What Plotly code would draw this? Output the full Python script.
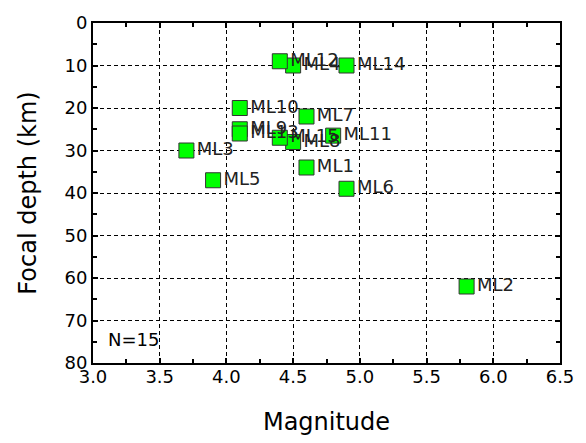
import plotly.graph_objects as go

labels = ["ML1", "ML2", "ML3", "ML4", "ML5", "ML6", "ML7", "ML8",
          "ML9", "ML10", "ML11", "ML12", "ML13", "ML14", "ML15"]
magnitude = [4.6, 5.8, 3.7, 4.5, 3.9, 4.9, 4.6, 4.5,
             4.1, 4.1, 4.8, 4.4, 4.1, 4.9, 4.4]
depth = [34, 62, 30, 10, 37, 39, 22, 28,
         25, 20, 26.5, 9, 26, 10, 27]

FONT = "DejaVu Sans"

fig = go.Figure()
fig.add_trace(go.Scatter(
    x=magnitude, y=depth, text=labels,
    mode="markers+text",
    textposition="middle right",
    textfont=dict(family=FONT, size=18, color="#222"),
    marker=dict(symbol="square", size=15, color="#00FF00",
                line=dict(color="#333", width=1)),
    showlegend=False, cliponaxis=False,
))

axis_common = dict(
    showline=True, linecolor="black", linewidth=2, mirror="ticks",
    ticks="inside", ticklen=5, tickwidth=1.5, tickcolor="black",
    showgrid=True, gridcolor="black", gridwidth=1, griddash="4px,3px",
    zeroline=False,
    tickfont=dict(family=FONT, size=18, color="black"),
)

fig.update_xaxes(
    range=[3.0, 6.5], dtick=0.5, tick0=3.0, tickformat=".1f",
    ticklabelstandoff=-4,
    minor=dict(dtick=0.25, ticks="inside", ticklen=4, tickwidth=1.5,
               tickcolor="black", showgrid=False),
    title=dict(text="Magnitude", font=dict(family=FONT, size=24, color="black"),
               standoff=28),
    **axis_common,
)
fig.update_yaxes(
    range=[80, 0], dtick=10, tick0=0,
    minor=dict(dtick=5, ticks="inside", ticklen=4, tickwidth=1.5,
               tickcolor="black", showgrid=False),
    title=dict(text="Focal depth (km)", font=dict(family=FONT, size=24, color="black"),
               standoff=21),
    **axis_common,
)

fig.add_annotation(x=3.1, y=74.4, text="N=15", showarrow=False,
                   xanchor="left", yanchor="middle",
                   font=dict(family=FONT, size=18, color="black"))

fig.update_layout(
    width=586, height=443,
    margin=dict(l=93, r=17, t=15, b=80),
    plot_bgcolor="white", paper_bgcolor="white",
)

fig.write_html("out.html")
